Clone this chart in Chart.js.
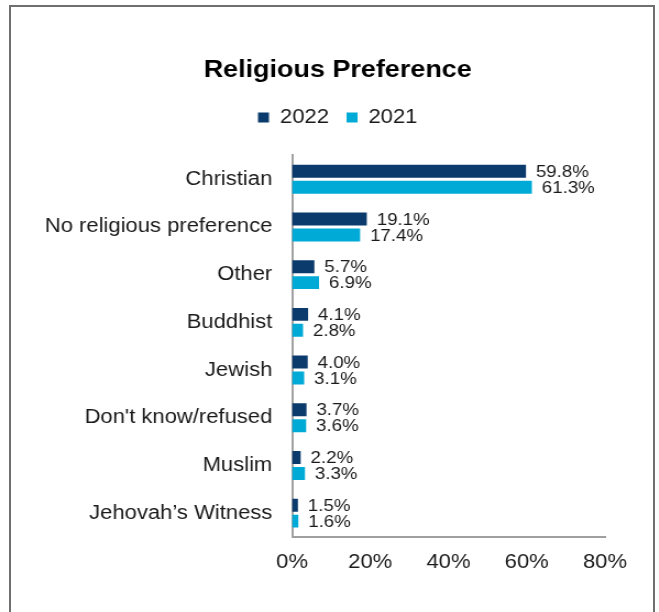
<!DOCTYPE html>
<html>
<head>
<meta charset="utf-8">
<script src="https://cdn.jsdelivr.net/npm/chart.js@4"></script>
<style>
  html, body { margin: 0; padding: 0; background: #fff; }
  #wrap { position: relative; width: 659px; height: 612px; overflow: hidden; }
  #frame {
    position: absolute; left: 9px; top: 5px; width: 646px; height: 640px;
    border: 2px solid #6f6f6f; box-sizing: border-box;
  }
  /* chart is laid out narrow and widened a little, like the pasted report graphic */
  #box {
    position: absolute; left: 0; top: 0; width: 599px; height: 612px;
    transform: scaleX(1.1); transform-origin: 0 0;
  }
</style>
</head>
<body>
<div id="wrap">
  <div id="frame"></div>
  <div id="box"><canvas id="religionChart"></canvas></div>
</div>
<script>
const categories = [
  'Christian',
  'No religious preference',
  'Other',
  'Buddhist',
  'Jewish',
  "Don't know/refused",
  'Muslim',
  'Jehovah\u2019s Witness'
];
const values2022 = [59.8, 19.1, 5.7, 4.1, 4.0, 3.7, 2.2, 1.5];
const values2021 = [61.3, 17.4, 6.9, 2.8, 3.1, 3.6, 3.3, 1.6];
const xTicks = [0, 20, 40, 60, 80];

const FONT = 'Arial, "Liberation Sans", sans-serif';

// writes the percentage just past the end of each bar
const barValueLabels = {
  id: 'barValueLabels',
  afterDatasetsDraw(chart) {
    const ctx = chart.ctx;
    ctx.save();
    ctx.font = '17px ' + FONT;
    ctx.fillStyle = '#1a1a1a';
    ctx.textBaseline = 'middle';
    ctx.textAlign = 'left';
    chart.data.datasets.forEach((ds, i) => {
      chart.getDatasetMeta(i).data.forEach((bar, j) => {
        ctx.fillText(ds.data[j].toFixed(1) + '%', bar.x + 9, bar.y + 1);
      });
    });
    ctx.restore();
  }
};

const layoutTweaks = {
  id: 'layoutTweaks',
  // leave some room between the legend and the first bars
  afterInit(chart) {
    const legend = chart.legend;
    const fit = legend.fit;
    legend.fit = function () {
      fit.call(this);
      this.height += 18;
    };
  },
  // long category names may run into the left margin instead of being clipped
  afterLayout(chart) {
    chart.scales.y.left = 0;
  }
};

const ctx = document.getElementById('religionChart').getContext('2d');
const religionChart = new Chart(ctx, {
  type: 'bar',
  data: {
    labels: categories,
    datasets: [
      {
        label: '2022',
        data: values2022,
        backgroundColor: '#0b3b6c',
        categoryPercentage: 0.67,
        barPercentage: 0.81
      },
      {
        label: '2021',
        data: values2021,
        backgroundColor: '#00aad6',
        categoryPercentage: 0.67,
        barPercentage: 0.81
      }
    ]
  },
  options: {
    indexAxis: 'y',
    responsive: true,
    maintainAspectRatio: false,
    animation: false,
    layout: {
      padding: { top: 56, right: 49, bottom: 25, left: 64 }
    },
    scales: {
      x: {
        min: 0,
        max: 80,
        afterBuildTicks(scale) {
          scale.ticks = xTicks.map(v => ({ value: v }));
        },
        grid: { display: false, drawTicks: false },
        border: { display: true, color: '#a0a0a0', width: 2 },
        ticks: {
          padding: 13,
          color: '#1a1a1a',
          font: { family: FONT, size: 20 },
          callback: v => v + '%'
        }
      },
      y: {
        grid: { display: false, drawTicks: false },
        border: { display: true, color: '#a0a0a0', width: 2 },
        afterFit(scale) {
          scale.width = 201.5;
        },
        ticks: {
          padding: 18,
          color: '#1a1a1a',
          font: { family: FONT, size: 20 }
        }
      }
    },
    plugins: {
      title: {
        display: true,
        text: 'Religious Preference',
        color: '#000',
        font: { family: FONT, size: 24.5, weight: 'bold' },
        padding: { top: 0, bottom: 6 }
      },
      legend: {
        position: 'top',
        labels: {
          boxWidth: 10,
          boxHeight: 10,
          padding: 16,
          color: '#1a1a1a',
          font: { family: FONT, size: 20 }
        }
      },
      tooltip: { enabled: false }
    }
  },
  plugins: [barValueLabels, layoutTweaks]
});
</script>
</body>
</html>
